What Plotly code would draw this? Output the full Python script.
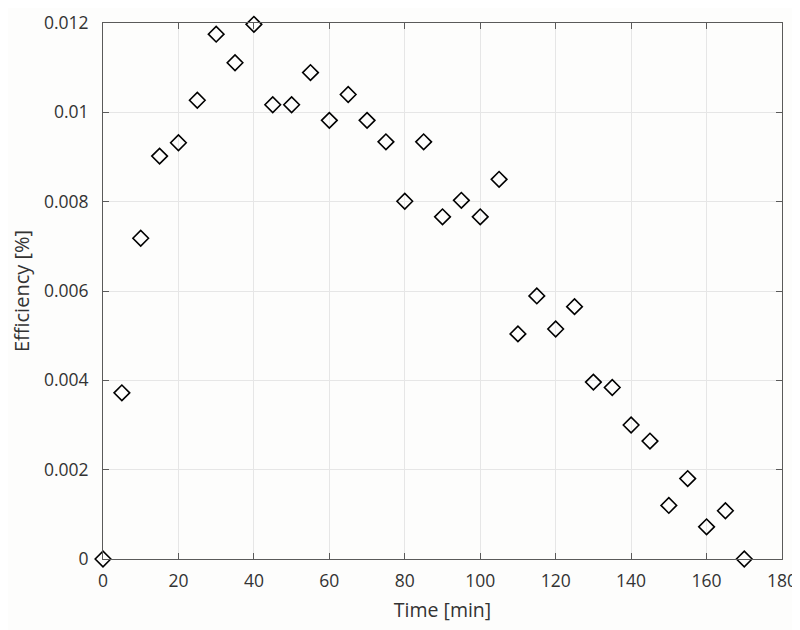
import plotly.graph_objects as go

time_min = [0, 5, 10, 15, 20, 25, 30, 35, 40, 45, 50, 55, 60, 65, 70, 75, 80, 85,
            90, 95, 100, 105, 110, 115, 120, 125, 130, 135, 140, 145, 150, 155, 160, 165, 170]
efficiency = [0.0, 0.00372, 0.00718, 0.00902, 0.00932, 0.01027, 0.01175, 0.01111, 0.01197,
              0.01017, 0.01017, 0.01089, 0.00982, 0.01040, 0.00982, 0.00934, 0.00801, 0.00934,
              0.00766, 0.00803, 0.00766, 0.00850, 0.00504, 0.00589, 0.00515, 0.00565,
              0.00396, 0.00384, 0.00300, 0.00264, 0.00120, 0.00180, 0.00072, 0.00108, 0.0]

x_ticks = [0, 20, 40, 60, 80, 100, 120, 140, 160, 180]
y_ticks = [0, 0.002, 0.004, 0.006, 0.008, 0.01, 0.012]
y_tick_labels = ["0", "0.002", "0.004", "0.006", "0.008", "0.01", "0.012"]

fig = go.Figure()
fig.add_trace(go.Scatter(
    x=time_min, y=efficiency, mode="markers",
    marker=dict(symbol="diamond-open", size=12, color="black", line=dict(width=1.6, color="black")),
    cliponaxis=False, showlegend=False,
))

axis_common = dict(
    showline=True, linecolor="#5a5a5a", linewidth=1, mirror="ticks",
    ticks="inside", ticklen=6, tickcolor="#5a5a5a", tickwidth=1,
    showgrid=True, gridcolor="#e6e6e6", gridwidth=1, zeroline=False,
    automargin=False,
    tickfont=dict(family="Open Sans", size=17.5, color="#333333"),
)

fig.update_layout(
    width=792, height=622,
    margin=dict(l=95, r=18, t=15, b=71),
    paper_bgcolor="#fdfdfc", plot_bgcolor="#fdfdfc",
    xaxis=dict(range=[0, 180], tickvals=x_ticks, ticklabelstandoff=6,
               title=dict(text="Time [min]", font=dict(family="Open Sans", size=19.5, color="#333333"), standoff=12),
               **axis_common),
    yaxis=dict(range=[0, 0.012], tickvals=y_ticks, ticktext=y_tick_labels, ticklabelstandoff=10,
               title=dict(text="Efficiency [%]", font=dict(family="Open Sans", size=20, color="#333333"), standoff=14),
               **axis_common),
)

fig.write_html("out.html")
